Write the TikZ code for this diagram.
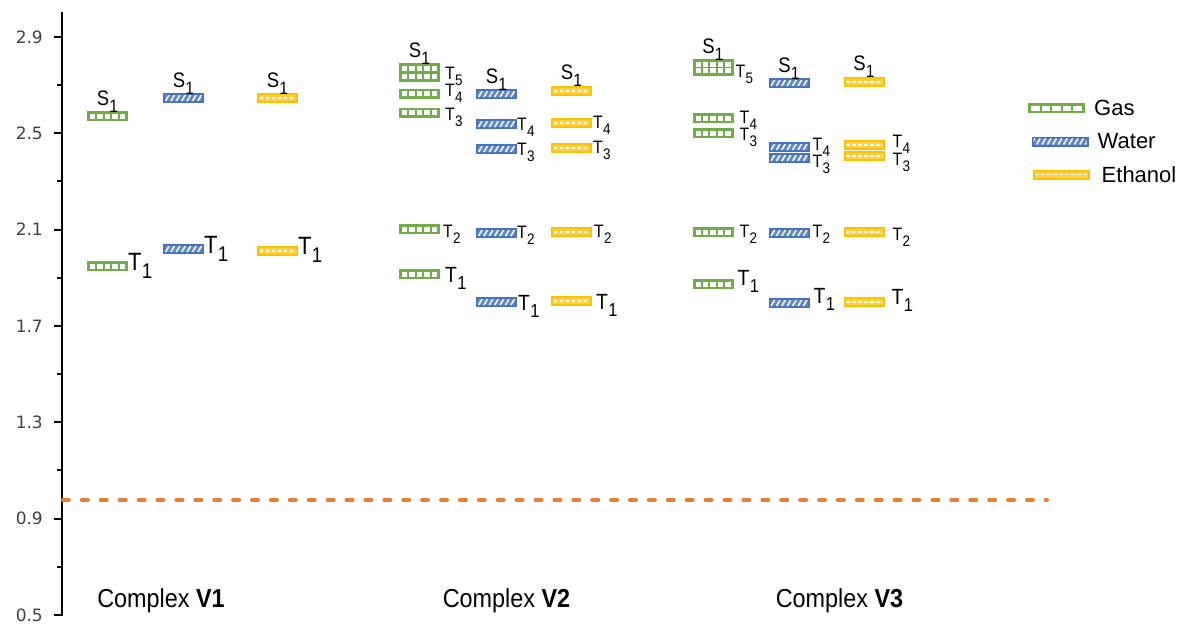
\documentclass[tikz,border=0pt]{standalone}
\usepackage{fontspec}
\setmainfont{Liberation Sans}
\newfontfamily\narrowfont[FakeStretch=0.88]{Liberation Sans}
\newfontfamily\namefont[FakeStretch=0.9]{Liberation Sans}
\newfontfamily\tickfont{DejaVu Sans}
\usetikzlibrary{calc}

\definecolor{gasgreen}{HTML}{70AD47}
\definecolor{waterblue}{HTML}{4472C4}
\definecolor{ethgold}{HTML}{FFC000}
\definecolor{refline}{HTML}{ED7D31}
\definecolor{ticktext}{HTML}{404040}

% level symbol with a lowered index
\newcommand\lvl[2]{#1\kern0.3pt\raisebox{-0.34em}{\scalebox{0.85}{#2}}}

\tikzset{
  barnode/.style={rectangle, inner sep=0pt, minimum height=8pt, line width=2pt},
  gasnode/.style={barnode, draw=gasgreen, fill=gasgreen},
  waternode/.style={barnode, draw=waterblue, fill=waterblue!85!white},
  ethnode/.style={barnode, draw=ethgold, fill=ethgold!75!white},
  slab/.style={inner sep=0pt, anchor=base, font=\narrowfont\fontsize{21}{21}\selectfont},
  tlab/.style={inner sep=0pt, anchor=base west, font=\narrowfont\fontsize{18}{18}\selectfont},
  tonelab/.style={inner sep=0pt, anchor=base west, font=\narrowfont\fontsize{22}{22}\selectfont},
  tbiglab/.style={inner sep=0pt, anchor=base west, font=\narrowfont\fontsize{25}{25}\selectfont},
  leglab/.style={inner sep=0pt, anchor=west, font=\fontsize{22}{22}\selectfont},
  cplxlab/.style={inner sep=0pt, anchor=base, font=\namefont\fontsize{26}{26}\selectfont},
  ticklab/.style={inner sep=0pt, anchor=east, text=ticktext, font=\tickfont\fontsize{17}{17}\selectfont},
  axisline/.style={line width=2pt, black},
  dashref/.style={refline, line width=4pt, line cap=round, dash pattern=on 6pt off 12.9pt},
}

% gas level: green box with a row of white squares
% [outer width]{name}{cx}{cy}
\newcommand\gasbar[4][41]{%
  \pgfmathsetmacro\barw{#1-2}%
  \pgfmathsetmacro\barpitch{(#1-4)/5}%
  \pgfmathsetmacro\barleft{#3-(#1-4)/2}%
  \node[gasnode, minimum width=\barw pt] (#2) at (#3,#4) {};
  \foreach \k in {0,...,4}{\fill[white] ({\barleft+\k*\barpitch+1},{#4-2.5}) rectangle ++({\barpitch-2},5);}
}
% second row of squares for a stacked pair
\newcommand\gasrow[3][41]{%
  \pgfmathsetmacro\barpitch{(#1-4)/5}%
  \pgfmathsetmacro\barleft{#2-(#1-4)/2}%
  \foreach \k in {0,...,4}{\fill[white] ({\barleft+\k*\barpitch+1},{#3-2.5}) rectangle ++({\barpitch-2},5);}
}
% water level: blue box with white diagonal hatching
\newcommand\waterbar[4][41]{%
  \pgfmathsetmacro\barw{#1-2}%
  \pgfmathsetmacro\barhalf{(#1-4)/2}%
  \node[waternode, minimum width=\barw pt] (#2) at (#3,#4) {};
  \begin{scope}
    \clip ({#3-\barhalf},{#4-3}) rectangle ({#3+\barhalf},{#4+3});
    \foreach \k in {-6,...,6}{\draw[white, line width=1.5pt] ({#3+\k*5.4-1.8},{#4+3}) -- ++(3.6,-6);}
  \end{scope}
}
% ethanol level: gold box with a white dashed centre line
\newcommand\ethbar[4][41]{%
  \pgfmathsetmacro\barw{#1-2}%
  \pgfmathsetmacro\barhalf{(#1-4)/2}%
  \node[ethnode, minimum width=\barw pt] (#2) at (#3,#4) {};
  \begin{scope}
    \clip ({#3-\barhalf},{#4-3}) rectangle ({#3+\barhalf},{#4+3});
    \draw[white, line width=1.8pt, dash pattern=on 3.6pt off 2.4pt] ({#3-\barhalf+0.6},{#4}) -- ({#3+\barhalf},{#4});
  \end{scope}
}

\begin{document}
\begin{tikzpicture}[x=1pt, y=-1pt]
\path[use as bounding box] (0,0) rectangle (1181,624);

% ---------- energy axis ----------
\coordinate (axtop) at (62,12);
\coordinate (axbot) at (62,615.5);
\draw[axisline] (axtop) -- (axbot);
\foreach \v in {2.9,2.5,2.1,1.7,1.3,0.9,0.5}{
  \draw[axisline] (54,{37+(2.9-\v)*240.8}) -- (62,{37+(2.9-\v)*240.8});
  \node[ticklab] at (43,{37+(2.9-\v)*240.8}) {\v};
}
\foreach \v in {2.7,2.3,1.9,1.5,1.1,0.7}{
  \draw[axisline] (57,{37+(2.9-\v)*240.8}) -- (62,{37+(2.9-\v)*240.8});
}

% reference level
\coordinate (refL) at (63,500);
\coordinate (refR) at (1047,500);
\draw[dashref] (refL) -- (refR);

% ---------- complex V1 ----------
\gasbar{v1gS}{107.5}{116}
\gasbar{v1gT1}{107.5}{266}
\waterbar{v1wS}{183.5}{98}
\waterbar{v1wT1}{183.5}{249}
\ethbar{v1eS}{277.5}{98}
\ethbar{v1eT1}{277.5}{251}

\node[slab] (v1gSl) at ([yshift=6pt]v1gS.north) {\lvl{S}{1}};
\node[slab] (v1wSl) at ([yshift=6pt]v1wS.north) {\lvl{S}{1}};
\node[slab] (v1eSl) at ([yshift=6pt]v1eS.north) {\lvl{S}{1}};
\node[tbiglab] (v1gT1l) at ([xshift=0pt,yshift=1pt]v1gT1.south east) {\lvl{T}{1}};
\node[tbiglab] (v1wT1l) at ([xshift=0pt,yshift=1pt]v1wT1.south east) {\lvl{T}{1}};
\node[tbiglab] (v1eT1l) at ([xshift=0pt,yshift=2pt]v1eT1.south east) {\lvl{T}{1}};

% ---------- complex V2 ----------
\gasbar{v2gS}{419.5}{68.3}
\gasbar{v2gT5}{419.5}{76.7}
\gasrow{419.5}{68.3}
\gasbar{v2gT4}{419.5}{93.5}
\gasbar{v2gT3}{419.5}{112.5}
\gasbar{v2gT2}{419.5}{229}
\gasbar{v2gT1}{419.5}{274}
\waterbar{v2wS}{496.5}{94}
\waterbar{v2wT4}{496.5}{124}
\waterbar{v2wT3}{496.5}{149}
\waterbar{v2wT2}{496.5}{233}
\waterbar{v2wT1}{496.5}{302}
\ethbar{v2eS}{571.5}{91}
\ethbar{v2eT4}{571.5}{123}
\ethbar{v2eT3}{571.5}{148}
\ethbar{v2eT2}{571.5}{232}
\ethbar{v2eT1}{571.5}{301}

\node[slab] (v2gSl) at ([yshift=6pt]v2gS.north) {\lvl{S}{1}};
\node[slab] (v2wSl) at ([yshift=6pt]v2wS.north) {\lvl{S}{1}};
\node[slab] (v2eSl) at ([yshift=7pt]v2eS.north) {\lvl{S}{1}};
\node[tlab] (v2gT5l) at ([xshift=5pt,yshift=2pt]v2gT5.south east) {\lvl{T}{5}};
\node[tlab] (v2gT4l) at ([xshift=5pt,yshift=2pt]v2gT4.south east) {\lvl{T}{4}};
\node[tlab] (v2gT3l) at ([xshift=5pt,yshift=-3pt]v2gT3.south east) {\lvl{T}{3}};
\node[tlab] (v2gT2l) at ([xshift=3pt,yshift=-3pt]v2gT2.south east) {\lvl{T}{2}};
\node[tonelab] (v2gT1l) at ([xshift=5pt,yshift=-3pt]v2gT1.south east) {\lvl{T}{1}};
\node[tlab] (v2wT4l) at ([xshift=0pt,yshift=-1pt]v2wT4.south east) {\lvl{T}{4}};
\node[tlab] (v2wT3l) at ([xshift=0pt,yshift=-1pt]v2wT3.south east) {\lvl{T}{3}};
\node[tlab] (v2wT2l) at ([xshift=0pt,yshift=0pt]v2wT2.south east) {\lvl{T}{2}};
\node[tonelab] (v2wT1l) at ([xshift=1pt,yshift=-3pt]v2wT1.south east) {\lvl{T}{1}};
\node[tlab] (v2eT4l) at ([xshift=1pt,yshift=0pt]v2eT4.south east) {\lvl{T}{4}};
\node[tlab] (v2eT3l) at ([xshift=1pt,yshift=0pt]v2eT3.south east) {\lvl{T}{3}};
\node[tlab] (v2eT2l) at ([xshift=2pt,yshift=0pt]v2eT2.south east) {\lvl{T}{2}};
\node[tonelab] (v2eT1l) at ([xshift=4pt,yshift=-3pt]v2eT1.south east) {\lvl{T}{1}};

% ---------- complex V3 ----------
\gasbar{v3gS}{713}{64}
\gasbar{v3gT5}{713}{70.5}
\gasrow{713}{64}
\gasbar{v3gT4}{713}{118}
\gasbar{v3gT3}{713}{133}
\gasbar{v3gT2}{713}{232}
\gasbar{v3gT1}{713}{284}
\waterbar{v3wS}{789}{83}
\waterbar{v3wT4}{789}{147}
\waterbar{v3wT3}{789}{158}
\waterbar{v3wT2}{789}{233}
\waterbar{v3wT1}{789}{303}
\ethbar{v3eS}{864}{82}
\ethbar{v3eT4}{864}{145}
\ethbar{v3eT3}{864}{156}
\ethbar{v3eT2}{864}{232}
\ethbar{v3eT1}{864}{302}

\node[slab] (v3gSl) at ([yshift=6pt]v3gS.north) {\lvl{S}{1}};
\node[slab] (v3wSl) at ([yshift=6pt]v3wS.north) {\lvl{S}{1}};
\node[slab] (v3eSl) at ([yshift=7pt]v3eS.north) {\lvl{S}{1}};
\node[tlab] (v3gT5l) at ([xshift=2pt,yshift=-1.5pt]v3gT5.south east) {\lvl{T}{5}};
\node[tlab] (v3gT4l) at ([xshift=6pt,yshift=0pt]v3gT4.south east) {\lvl{T}{4}};
\node[tlab] (v3gT3l) at ([xshift=6pt,yshift=-2pt]v3gT3.south east) {\lvl{T}{3}};
\node[tlab] (v3gT2l) at ([xshift=6pt,yshift=0pt]v3gT2.south east) {\lvl{T}{2}};
\node[tonelab] (v3gT1l) at ([xshift=4pt,yshift=4pt]v3gT1.south east) {\lvl{T}{1}};
\node[tlab] (v3wT4l) at ([xshift=3pt,yshift=2pt]v3wT4.south east) {\lvl{T}{4}};
\node[tlab] (v3wT3l) at ([xshift=3pt,yshift=-4pt]v3wT3.south east) {\lvl{T}{3}};
\node[tlab] (v3wT2l) at ([xshift=3pt,yshift=1pt]v3wT2.south east) {\lvl{T}{2}};
\node[tonelab] (v3wT1l) at ([xshift=4pt,yshift=5pt]v3wT1.south east) {\lvl{T}{1}};
\node[tlab] (v3eT4l) at ([xshift=8pt,yshift=3pt]v3eT4.south east) {\lvl{T}{4}};
\node[tlab] (v3eT3l) at ([xshift=8pt,yshift=-4pt]v3eT3.south east) {\lvl{T}{3}};
\node[tlab] (v3eT2l) at ([xshift=8pt,yshift=-3pt]v3eT2.south east) {\lvl{T}{2}};
\node[tonelab] (v3eT1l) at ([xshift=7pt,yshift=3pt]v3eT1.south east) {\lvl{T}{1}};

% ---------- complex names ----------
\node[cplxlab] (nameV1) at (161,607) {Complex \textbf{V1}};
\node[cplxlab] (nameV2) at (506.5,607) {Complex \textbf{V2}};
\node[cplxlab] (nameV3) at (839.5,607) {Complex \textbf{V3}};

% ---------- legend ----------
\gasbar[57]{legGas}{1056.5}{108}
\waterbar[57]{legWater}{1060}{141.5}
\ethbar[57]{legEth}{1061}{174.5}
\node[leglab] (legGasl) at ([xshift=9pt]legGas.east) {Gas};
\node[leglab] (legWaterl) at ([xshift=9pt]legWater.east) {Water};
\node[leglab] (legEthl) at ([xshift=12pt]legEth.east) {Ethanol};
\end{tikzpicture}
\end{document}
